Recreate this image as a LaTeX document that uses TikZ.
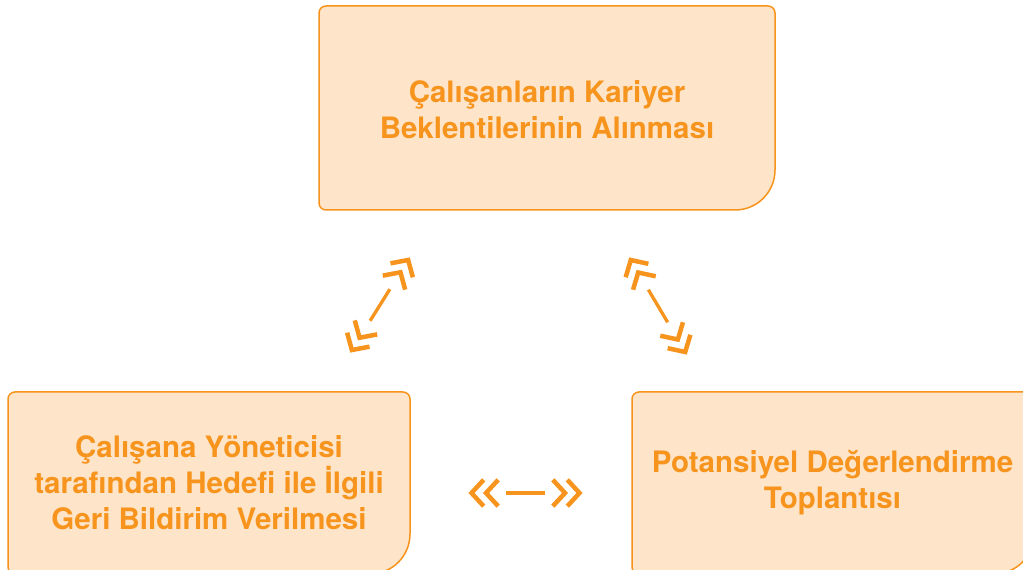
\documentclass[tikz,border=0pt]{standalone}
\usepackage{fontspec}
\setmainfont{TeX Gyre Heros}
\usetikzlibrary{decorations.markings}
\definecolor{orng}{RGB}{247,148,29}
\definecolor{peach}{RGB}{254,228,200}
\newcommand{\chevF}{\draw[chev] (-15.2,13.2) -- (-3,0) -- (-15.2,-13.2);}
\newcommand{\chevB}{\draw[chev] (15.2,13.2) -- (3,0) -- (15.2,-13.2);}
\newcommand{\cornerbox}[4]{%
  \draw[boxline] (#1,#2+7) -- (#1,#4-7) arc[start angle=180,end angle=90,radius=7]
    -- (#3-7,#4) arc[start angle=90,end angle=0,radius=7]
    -- (#3,#2+40) arc[start angle=0,end angle=-90,radius=40]
    -- (#1+7,#2) arc[start angle=-90,end angle=-180,radius=7] -- cycle;}
\begin{document}
\begin{tikzpicture}[x=1pt,y=1pt,
  boxline/.style={draw=orng, fill=peach, line width=1.5pt},
  boxtext/.style={text=orng, font=\fontsize{29.5}{36}\selectfont\bfseries, align=center, inner sep=0pt},
  chev/.style={draw=orng, line width=4.5pt, miter limit=10},
  linkline/.style={draw=orng, line width=3.3pt, shorten <=38pt, shorten >=38pt},
  chevrons/.style={decorate, decoration={markings,
     mark=at position 0.5pt with {\chevB},
     mark=at position 15pt with {\chevB},
     mark=at position -15pt with {\chevF},
     mark=at position -0.5pt with {\chevF}}}]
\clip (0,0) rectangle (1023,570);
\fill[white] (0,0) rectangle (1023,570);
% boxes
\cornerbox{319}{360}{775}{564}
\cornerbox{8}{-4}{410}{178}
\cornerbox{632}{-4}{1034}{178}
\node[boxtext] (top) at (547,460) {Çalışanların Kariyer\\Beklentilerinin Alınması};
\node[boxtext] (left) at (209,87) {Çalışana Yöneticisi\\tarafından Hedefi ile İlgili\\Geri Bildirim Verilmesi};
\node[boxtext] (right) at (832.5,87) {Potansiyel Değerlendirme\\Toplantısı};
% connector end points
\coordinate (a1) at (350,217);
\coordinate (b1) at (410,313);
\coordinate (a2) at (687,215);
\coordinate (b2) at (629,313);
\coordinate (a3) at (468,77);
\coordinate (b3) at (583,77);
\draw[linkline] (a1) -- (b1);
\path[chevrons] (a1) -- (b1);
\draw[linkline] (a2) -- (b2);
\path[chevrons] (a2) -- (b2);
\draw[linkline] (a3) -- (b3);
\path[chevrons] (a3) -- (b3);
\end{tikzpicture}
\end{document}
